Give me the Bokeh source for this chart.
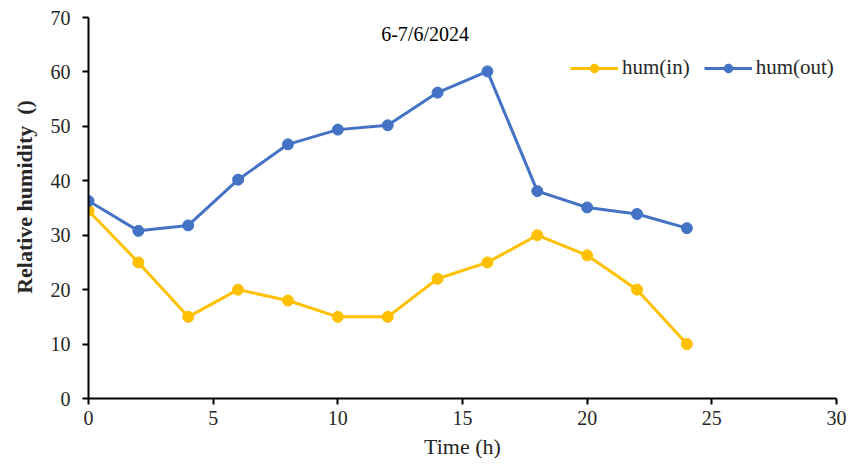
from bokeh.plotting import figure
from bokeh.models import Range1d, Legend, LegendItem, Label, FixedTicker
from bokeh.embed import file_html
from bokeh.resources import INLINE

hours = [0, 2, 4, 6, 8, 10, 12, 14, 16, 18, 20, 22, 24]
hum_in = [34.5, 25, 15, 20, 18, 15, 15, 22, 25, 30, 26.3, 20, 10]
hum_out = [36.3, 30.8, 31.8, 40.2, 46.7, 49.4, 50.2, 56.2, 60.1, 38.1, 35.1, 33.9, 31.3]
x_ticks = [0, 5, 10, 15, 20, 25, 30]
y_ticks = [0, 10, 20, 30, 40, 50, 60, 70]
title_text = "6-7/6/2024"

FONT = "'Liberation Serif', 'Times New Roman', serif"
YELLOW = "#FFC000"
BLUE = "#4472C4"
TXT = "#262626"

p = figure(width=848, height=462, output_backend="svg", toolbar_location=None,
           x_range=Range1d(0, 30), y_range=Range1d(0, 70),
           min_border_left=88, min_border_right=12, min_border_top=17, min_border_bottom=64)
p.outline_line_color = None
p.xgrid.visible = False
p.ygrid.visible = False

for ax in (p.xaxis[0], p.yaxis[0]):
    ax.axis_line_color = "black"
    ax.axis_line_width = 2
    ax.major_tick_line_color = "black"
    ax.major_tick_line_width = 2
    ax.major_tick_out = 6
    ax.major_tick_in = 0
    ax.minor_tick_line_color = None
    ax.major_label_text_font = FONT
    ax.major_label_text_font_size = "20px"
    ax.major_label_text_color = TXT
    ax.axis_label_text_font = FONT
    ax.axis_label_text_color = TXT

p.xaxis.ticker = FixedTicker(ticks=x_ticks)
p.yaxis.ticker = FixedTicker(ticks=y_ticks)
p.xaxis.axis_label = "Time (h)"
p.xaxis.axis_label_text_font_style = "normal"
p.xaxis.axis_label_text_font_size = "22px"
p.xaxis.axis_label_standoff = 6
p.yaxis.axis_label = "\u00a0\u00a0\u00a0\u00a0Relative humidity\u00a0\u00a0()"
p.yaxis.axis_label_text_font_style = "bold"
p.yaxis.axis_label_text_font_size = "22px"
p.yaxis.axis_label_standoff = 11
p.xaxis.major_label_standoff = 6
p.yaxis.major_label_standoff = 12

l1 = p.line(hours, hum_in, line_color=YELLOW, line_width=3)
c1 = p.scatter(hours, hum_in, size=11, fill_color=YELLOW, line_color=YELLOW)
l2 = p.line(hours, hum_out, line_color=BLUE, line_width=3)
c2 = p.scatter(hours, hum_out, size=11, fill_color=BLUE, line_color=BLUE)

legend = Legend(items=[LegendItem(label="hum(in)", renderers=[l1, c1]),
                       LegendItem(label="hum(out)", renderers=[l2, c2])],
                orientation="horizontal", location=(482, 318))
legend.border_line_color = None
legend.background_fill_alpha = 0
legend.label_text_font = FONT
legend.label_text_font_size = "21px"
legend.label_text_color = TXT
legend.glyph_width = 48
legend.glyph_height = 22
legend.label_standoff = 4
legend.spacing = 14
legend.padding = 0
legend.margin = 0
p.add_layout(legend, "center")

p.add_layout(Label(x=13.5, y=67, text=title_text, text_align="center", text_baseline="middle",
                   text_font=FONT, text_font_size="20px", text_color="black"))

open("out.html", "w").write(file_html(p, INLINE))
